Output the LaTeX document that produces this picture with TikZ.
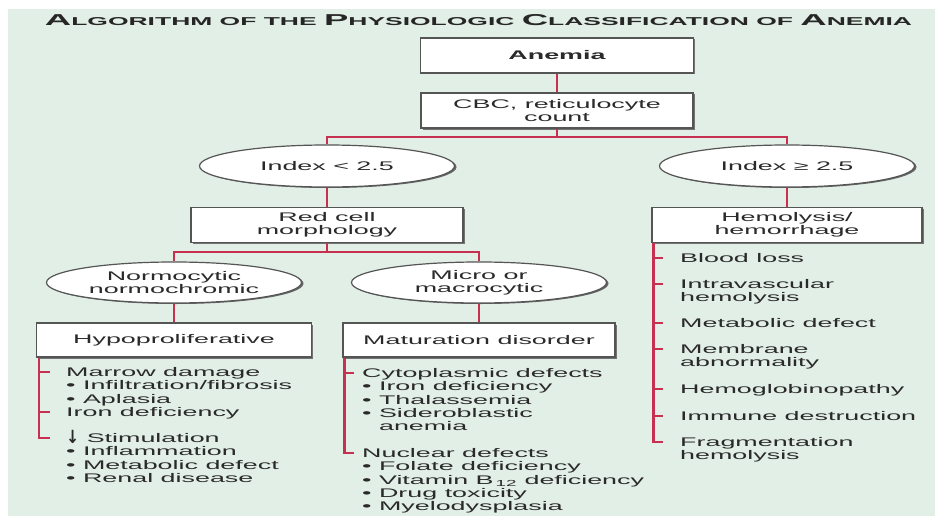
\documentclass[tikz,border=0pt]{standalone}
\usepackage{fontspec}
\usepackage{graphicx}
\setmainfont[FakeStretch=2.15]{Liberation Sans}
\newfontfamily\arrowfont{DejaVu Sans}
\usetikzlibrary{shapes.geometric,shadows}
\definecolor{bg}{HTML}{E2EFE6}
\definecolor{lnk}{HTML}{C8304F}
\definecolor{ink}{HTML}{2A2A2A}
\definecolor{frame}{HTML}{555555}
\newcommand\capL[1]{{\fontsize{16}{16}\selectfont #1}}
\begin{document}
\begin{tikzpicture}[x=1pt,y=-1pt,
  every node/.style={text=ink, font=\fontsize{12.5}{13.3}\selectfont},
  box/.style={draw=frame, line width=1.2pt, fill=white, align=center, inner sep=0pt,
    minimum height=35pt,
    drop shadow={shadow xshift=1.5pt, shadow yshift=-1.5pt, fill=black!55, opacity=1}},
  oval/.style={ellipse, draw=frame, line width=1.2pt, fill=white, align=center, inner sep=0pt,
    minimum width=255pt, minimum height=42pt,
    drop shadow={shadow xshift=2pt, shadow yshift=-1pt, fill=black!60, opacity=1}},
  link/.style={draw=lnk, line width=2.2pt},
  item/.style={anchor=base west, align=left, inner sep=0pt}
]
\useasboundingbox (0,0) rectangle (935,519);
\fill[white] (0,0) rectangle (935,519);
\fill[bg] (8,9) rectangle (935,516);

% title
\node[inner sep=0pt, font=\bfseries, text=black!85] (title) at (478.5,20.5)
  {\resizebox{867pt}{11pt}{\fontsize{11.6}{12}\selectfont\capL{A}LGORITHM OF THE \capL{P}HYSIOLOGIC \capL{C}LASSIFICATION OF \capL{A}NEMIA}};

% boxes and ovals
\node[box, minimum width=273pt] (anemia) at (557,55.5) {\bfseries Anemia};
\node[box, minimum width=272pt] (cbc) at (557,110.5) {CBC, reticulocyte\\count};
\node[oval] (ilow) at (327,166) {Index < 2.5};
\node[oval] (ihigh) at (787,166) {Index ≥ 2.5};
\node[box, minimum width=272pt] (redcell) at (327,225) {Red cell\\morphology};
\node[box, minimum width=270pt] (hemo) at (787,225) {Hemolysis/\\hemorrhage};
\node[oval, minimum height=41pt] (normo) at (174,282.5) {Normocytic\\normochromic};
\node[oval, minimum height=41pt] (micro) at (479,282.5) {Micro or\\macrocytic};
\node[box, minimum width=275pt, minimum height=34pt] (hypo) at (174,340) {Hypoproliferative};
\node[box, minimum width=272pt, minimum height=34pt] (matur) at (479,340) {Maturation disorder};

% tree connectors
\coordinate (j1) at (557,137);
\coordinate (j2) at (327,252);
\draw[link] (anemia.south) -- (cbc.north);
\draw[link] (cbc.south) -- (j1);
\draw[link] (ilow.north) |- (j1) -| (ihigh.north);
\draw[link] (ilow.south) -- (redcell.north);
\draw[link] (ihigh.south) -- (hemo.north);
\draw[link] (redcell.south) -- (j2);
\draw[link] (normo.north) |- (j2) -| (micro.north);
\draw[link] (normo.south) -- (hypo.north);
\draw[link] (micro.south) -- (matur.north);

% hypoproliferative list (base anchor = last line)
\node[item] (hA) at (66,416.4) {Marrow damage\\• Infiltration/fibrosis\\• Aplasia\\Iron deficiency};
\node[item] (hB) at (66,482.4) {\raisebox{-0.5pt}{\scalebox{1.25}[1.45]{\arrowfont\bfseries ↓}} Stimulation\\• Inflammation\\• Metabolic defect\\• Renal disease};
\coordinate (hT1) at (50,372);
\coordinate (hT2) at (50,412);
\coordinate (hT3) at (50,438);
\draw[link] ([xshift=3pt]hypo.south west) |- (hT3);
\draw[link] (hT1) -- ++(-10,0);
\draw[link] (hT2) -- ++(-10,0);

% maturation list
\node[item] (mA) at (362,430.7) {Cytoplasmic defects\\• Iron deficiency\\• Thalassemia\\• Sideroblastic\\\phantom{• }anemia};
\node[item] (mB) at (362,510.7) {Nuclear defects\\• Folate deficiency\\• Vitamin B\,\textsubscript{12} deficiency\\• Drug toxicity\\• Myelodysplasia};
\coordinate (mT1) at (354,373);
\coordinate (mT2) at (354,453);
\draw[link] ([xshift=2pt]matur.south west) |- (mT2);
\draw[link] (mT1) -- ++(-9,0);

% hemolysis list
\node[item] (e1) at (680,262.5) {Blood loss};
\node[item] (e2) at (680,301.8) {Intravascular\\hemolysis};
\node[item] (e3) at (680,327.5) {Metabolic defect};
\node[item] (e4) at (680,366.8) {Membrane\\abnormality};
\node[item] (e5) at (680,393.5) {Hemoglobinopathy};
\node[item] (e6) at (680,420.5) {Immune destruction};
\node[item] (e7) at (680,459.8) {Fragmentation\\hemolysis};
\coordinate (eT1) at (663,258);
\coordinate (eT2) at (663,284);
\coordinate (eT3) at (663,323);
\coordinate (eT4) at (663,349);
\coordinate (eT5) at (663,389);
\coordinate (eT6) at (663,416);
\coordinate (eT7) at (663,442);
\draw[link] ([xshift=2pt]hemo.south west) |- (eT7);
\foreach \t in {eT1,eT2,eT3,eT4,eT5,eT6} \draw[link] (\t) -- ++(-9,0);
\end{tikzpicture}
\end{document}
